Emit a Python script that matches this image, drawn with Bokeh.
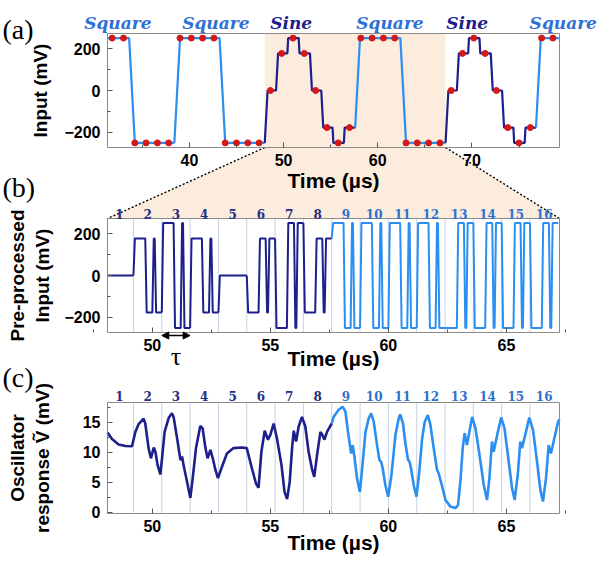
import numpy as np
from bokeh.plotting import figure
from bokeh.models import (FixedTicker, Label, Arrow, NormalHead, Range1d, LinearAxis)
from bokeh.embed import file_html
from bokeh.resources import INLINE

# ---------------- data ----------------
TAU = 1.2                 # symbol duration (us)
input_t0 = 28.8           # start of the first symbol (us)
input_mv = [250, 250, 250, 250, -250, -250, -250, -250,
            250, 250, 250, 250, -250, -250, -250, -250,
            0, 177, 250, 177, 0, -177, -250, -177,
            250, 250, 250, 250, -250, -250, -250, -250,
            0, 177, 250, 177, 0, -177, -250, -177,
            250, 250, 250, 250]
block_names = ["Square", "Square", "Sine", "Square", "Sine", "Square"]
block_len = 8
block_label_t = [32.4, 42.8, 50.8, 61.3, 69.5, 79.7]

zoom_first = 16           # index of first symbol shown in (b), (c)
zoom_n = 16
slot_numbers = [str(i) for i in range(1, 17)]
mask = [1, 1, 1, 1, 1, -1, -1, -1, 1, -1, -1, -1]

resp_t = [48.10, 48.29, 48.57, 48.86, 49.14, 49.28, 49.42, 49.63, 49.70, 49.84,
          49.94, 50.06, 50.13, 50.22, 50.34, 50.41, 50.52, 50.69, 50.83, 50.90,
          51.05, 51.19, 51.26, 51.33, 51.47, 51.61, 51.71, 51.85, 52.03, 52.13,
          52.25, 52.34, 52.46, 52.56, 52.67, 52.78, 52.95, 53.16, 53.44, 53.80,
          54.00, 54.22, 54.39, 54.50, 54.62, 54.76, 54.90, 55.00, 55.14, 55.28,
          55.47, 55.60, 55.71, 55.82, 55.92, 55.99, 56.09, 56.20, 56.34, 56.48,
          56.62, 56.77, 56.86, 56.98, 57.12, 57.19, 57.29, 57.40, 57.50, 57.60,
          57.68, 57.89, 58.06, 58.18, 58.29, 58.42, 58.49, 58.56, 58.67, 58.79,
          58.89, 59.03, 59.17, 59.27, 59.38, 59.52, 59.62, 59.70, 59.76, 59.87,
          59.99, 60.13, 60.30, 60.44, 60.50, 60.62, 60.72, 60.83, 60.90, 60.97,
          61.07, 61.19, 61.31, 61.43, 61.54, 61.67, 61.78, 61.92, 62.06, 62.13,
          62.28, 62.42, 62.63, 62.84, 62.95, 63.05, 63.15, 63.23, 63.33, 63.43,
          63.55, 63.69, 63.86, 64.04, 64.18, 64.28, 64.39, 64.46, 64.61, 64.78,
          64.92, 65.10, 65.24, 65.35, 65.48, 65.59, 65.66, 65.80, 65.97, 66.13,
          66.30, 66.44, 66.55, 66.68, 66.79, 66.89, 67.00, 67.19, 67.25]
resp_v = [13.3, 12.2, 11.3, 11.05, 11.0, 13.4, 14.7, 15.6, 14.8, 10.7,
          9.0, 10.8, 10.1, 7.9, 6.3, 9.0, 13.4, 15.7, 16.5, 15.9,
          12.3, 8.7, 9.3, 7.7, 5.1, 2.4, 5.7, 10.7, 14.4, 14.0,
          10.7, 9.0, 10.4, 9.0, 7.1, 5.7, 7.6, 9.8, 10.7, 10.8,
          10.7, 7.3, 4.8, 4.1, 10.1, 13.6, 12.1, 12.9, 14.8, 12.3,
          7.9, 3.4, 2.2, 5.1, 10.7, 13.6, 11.8, 14.3, 15.9, 14.3,
          10.1, 7.1, 5.9, 9.6, 13.4, 13.0, 12.1, 13.4, 14.1, 14.8,
          15.9, 17.1, 17.6, 16.8, 13.4, 9.8, 11.2, 9.3, 5.7, 3.4,
          7.3, 13.4, 15.7, 16.5, 15.1, 11.2, 8.7, 8.4, 7.3, 4.6,
          2.6, 6.2, 12.9, 15.7, 16.3, 14.8, 11.5, 8.8, 8.4, 7.1,
          4.6, 2.6, 6.8, 12.3, 15.1, 16.2, 14.6, 10.7, 7.1, 6.5,
          4.3, 2.05, 0.95, 0.7, 1.2, 5.1, 10.7, 13.2, 11.2, 13.4,
          15.9, 14.0, 9.6, 4.6, 2.05, 5.7, 11.8, 10.1, 12.9, 15.8,
          14.0, 8.4, 4.0, 2.05, 6.2, 11.8, 10.7, 12.9, 15.8, 13.7,
          8.4, 3.7, 1.8, 5.7, 11.2, 9.8, 11.8, 15.1, 15.5]

# ---------------- style / geometry (canvas pixels, y downwards) ----------------
NAVY = "#1c1f8c"
LIGHT = "#2b8ef0"
RED = "#d41717"
SHADE = "#fcecde"
SQ_COL = "#2f6fd6"
NUM_DARK = "#23307f"
NUM_LIGHT = "#2f72cf"
GRID = "#8fa6c9"
FRAME = "#8a8a8a"
SANS = "Liberation Sans"
SERIF = "Liberation Serif"

W, H = 600, 564
FL, FR = 107, 559                 # panel frames, left/right pixel
A_T, A_B = 33, 147                # panel (a) frame top/bottom pixel
B_T, B_B = 218, 332               # panel (b)
C_T, C_B = 402, 513               # panel (c)
XA = (31.3, 79.3)
XB = (48.1, 67.25)
YA = (-272, 272)
YB = (-272, 272)
YC = (-0.2, 18.3)


def xrange_for(v0, v1):
    u = (v1 - v0) / (FR - FL)
    return Range1d(start=v0 - FL * u, end=v1 + (W - FR) * u)


def yrange_for(top_px, bot_px, vr):
    u = (vr[1] - vr[0]) / (bot_px - top_px)
    return Range1d(start=vr[0] - (H - bot_px) * u, end=vr[1] + top_px * u)


p = figure(width=W, height=H, x_range=Range1d(0, W), y_range=Range1d(H, 0),
           x_axis_type=None, y_axis_type=None, output_backend="svg",
           toolbar_location=None, min_border=0)
p.min_border_left = p.min_border_right = p.min_border_top = p.min_border_bottom = 0
p.outline_line_color = None
p.grid.visible = False
p.extra_x_ranges = {"ta": xrange_for(*XA), "tb": xrange_for(*XB)}
p.extra_y_ranges = {"ya": yrange_for(A_T, A_B, YA), "yb": yrange_for(B_T, B_B, YB),
                    "yc": yrange_for(C_T, C_B, YC)}


def style_axis(ax):
    ax.axis_line_color = None
    ax.major_tick_in = 5
    ax.major_tick_out = 0
    ax.minor_tick_in = 3
    ax.minor_tick_out = 0
    ax.major_tick_line_color = "#555555"
    ax.minor_tick_line_color = "#555555"
    ax.major_label_text_font = SANS
    ax.major_label_text_font_style = "bold"
    ax.major_label_text_font_size = "16px"
    ax.major_label_text_color = "black"
    ax.axis_label_text_font = SANS
    ax.axis_label_text_font_style = "bold"
    ax.axis_label_text_color = "black"


def add_axes(xn, yn, xr, yr, xt, xmt, yt, ymt, ylabel, ystand, xstand):
    xa = LinearAxis(x_range_name=xn, y_range_name=yn, fixed_location=yr[0],
                    bounds=xr, ticker=FixedTicker(ticks=xt, minor_ticks=xmt),
                    axis_label="Time (\u00b5s)")
    style_axis(xa)
    xa.axis_label_text_font_size = "21px"
    xa.major_label_standoff = 6
    xa.axis_label_standoff = xstand
    p.add_layout(xa, "below")
    ya_ = LinearAxis(x_range_name=xn, y_range_name=yn, fixed_location=xr[0],
                     bounds=yr, ticker=FixedTicker(ticks=yt, minor_ticks=ymt),
                     axis_label=ylabel)
    style_axis(ya_)
    ya_.axis_label_text_font_size = "19px"
    ya_.major_label_standoff = 7
    ya_.axis_label_standoff = ystand
    p.add_layout(ya_, "left")


def frame_box(xn, yn, xr, yr):
    p.quad(left=[xr[0]], right=[xr[1]], bottom=[yr[0]], top=[yr[1]],
           fill_color=None, line_color=FRAME, line_width=1,
           x_range_name=xn, y_range_name=yn)


def held_trace(t0, dt, vals, prev, ramp):
    xs, ys = [], []
    for i, v in enumerate(vals):
        t = t0 + i * dt
        d = ramp(prev, v)
        xs += [t, t + d, t + dt]
        ys += [prev, v, v]
        prev = v
    return xs, ys


def clip_trace(xs, ys, lo, hi):
    xs = np.asarray(xs, float)
    ys = np.asarray(ys, float)
    keep = (xs >= lo) & (xs <= hi)
    ox, oy = list(xs[keep]), list(ys[keep])
    if xs[0] < lo < xs[-1]:
        ox.insert(0, lo)
        oy.insert(0, float(np.interp(lo, xs, ys)))
    if xs[0] < hi < xs[-1]:
        ox.append(hi)
        oy.append(float(np.interp(hi, xs, ys)))
    return ox, oy


zs = input_t0 + zoom_first * TAU
ze = zs + zoom_n * TAU
boundaries = [zs + k * TAU for k in range(1, zoom_n)]
slot_centers = [zs + (k + 0.5) * TAU for k in range(zoom_n)]

# ---------------- shading / zoom connector ----------------
p.quad(left=[zs], right=[ze], bottom=[YA[0]], top=[YA[1]], fill_color=SHADE,
       line_color=None, x_range_name="ta", y_range_name="ya")
p.patch(x=[zs, ze, XA[1], XA[0]], y=[A_B, A_B, B_T, B_T], fill_color=SHADE,
        line_color=None, x_range_name="ta")
p.segment(x0=[zs, ze], y0=[A_B, A_B], x1=[XA[0], XA[1]], y1=[B_T, B_T],
          line_color="black", line_width=1.4, line_dash="2 2", x_range_name="ta")

# ---------------- panel (a) ----------------
SLEW = 830.0
for b, name in enumerate(block_names):
    vals = input_mv[b * block_len:(b + 1) * block_len]
    prev = input_mv[b * block_len - 1] if b > 0 else vals[0]
    xs, ys = held_trace(input_t0 + b * block_len * TAU, TAU, vals, prev,
                        lambda a, c: abs(c - a) / SLEW)
    xs, ys = clip_trace(xs, ys, *XA)
    p.line(xs, ys, color=LIGHT if name == "Square" else NAVY, line_width=2.2,
           x_range_name="ta", y_range_name="ya")
dot_t = np.array([input_t0 + (k + 0.5) * TAU for k in range(len(input_mv))])
dot_v = np.array(input_mv)
inside = (dot_t > XA[0]) & (dot_t < XA[1])
p.scatter(dot_t[inside], dot_v[inside], size=6, color=RED,
          x_range_name="ta", y_range_name="ya")
frame_box("ta", "ya", XA, YA)
add_axes("ta", "ya", XA, YA, [40, 50, 60, 70], [35, 45, 55, 65, 75],
         [-200, 0, 200], [-100, 100], "Input (mV)", 10, 0)

for t, name in zip(block_label_t, block_names):
    p.add_layout(Label(x=t, y=22, x_range_name="ta", text=name,
                       text_font="DejaVu Serif", text_font_style="bold italic",
                       text_font_size="17px",
                       text_color=SQ_COL if name == "Square" else NAVY,
                       text_align="center", text_baseline="alphabetic"))
for txt, yy in (("(a)", 29), ("(b)", 187), ("(c)", 377)):
    p.add_layout(Label(x=2, y=yy, text=txt, text_font=SERIF, text_font_size="28px",
                       text_color="black", text_baseline="alphabetic"))

# ---------------- panel (b) ----------------
p.segment(x0=boundaries, x1=boundaries, y0=[YB[0]] * len(boundaries),
          y1=[YB[1]] * len(boundaries), line_color=GRID, line_dash="1 1",
          line_width=1, x_range_name="tb", y_range_name="yb")
sub = TAU / len(mask)
prev = input_mv[zoom_first] * mask[0]
for k in range(zoom_n):
    v = input_mv[zoom_first + k]
    vals = [v * m for m in mask]
    xs, ys = held_trace(zs + k * TAU, sub, vals, prev,
                        lambda a, c: 0.06 if a != c else 0.0)
    prev = vals[-1]
    xs, ys = clip_trace(xs, ys, *XB)
    p.line(xs, ys, color=NAVY if k < 8 else LIGHT, line_width=2.0,
           x_range_name="tb", y_range_name="yb")
frame_box("tb", "yb", XB, YB)
add_axes("tb", "yb", XB, YB, [50, 55, 60, 65], [47.5, 52.5, 57.5, 62.5, 67.5],
         [-200, 0, 200], [-100, 100], "Pre-processed\nInput (mV)", 8, -7)

for row_y in (213, 395):
    for k, (c, s) in enumerate(zip(slot_centers, slot_numbers)):
        p.add_layout(Label(x=c, y=row_y, x_range_name="tb", text=s,
                           text_font="DejaVu Serif", text_font_style="bold",
                           text_font_size="12px",
                           text_color=NUM_DARK if k < 8 else NUM_LIGHT,
                           text_align="center", text_baseline="alphabetic"))

p.add_layout(Arrow(start=NormalHead(size=7, fill_color="black", line_color="black"),
                   end=NormalHead(size=7, fill_color="black", line_color="black"),
                   x_start=boundaries[1], x_end=boundaries[2], y_start=335, y_end=335,
                   x_range_name="tb", line_width=1.3, line_color="black"))
p.add_layout(Label(x=(boundaries[1] + boundaries[2]) / 2, y=356, x_range_name="tb",
                   text="\u03c4", text_font=SERIF, text_font_size="26px",
                   text_color="black", text_align="center", text_baseline="alphabetic"))

# ---------------- panel (c) ----------------
p.segment(x0=boundaries, x1=boundaries, y0=[YC[0]] * len(boundaries),
          y1=[YC[1]] * len(boundaries), line_color=GRID, line_dash="1 1",
          line_width=1, x_range_name="tb", y_range_name="yc")
split = zs + 8 * TAU
rt = np.array(resp_t)
rv = np.array(resp_v)
dark = rt <= split + 1e-9
light = rt >= split - 1e-9
p.line(rt[dark], rv[dark], color=NAVY, line_width=2.6, x_range_name="tb", y_range_name="yc")
p.line(rt[light], rv[light], color=LIGHT, line_width=2.6, x_range_name="tb", y_range_name="yc")
frame_box("tb", "yc", XB, YC)
add_axes("tb", "yc", XB, YC, [50, 55, 60, 65], [47.5, 52.5, 57.5, 62.5, 67.5],
         [0, 5, 10, 15], [2.5, 7.5, 12.5, 17.5], "Oscillator\nresponse V\u0303 (mV)", 27, -4)

open("out.html", "w").write(file_html(p, INLINE))
